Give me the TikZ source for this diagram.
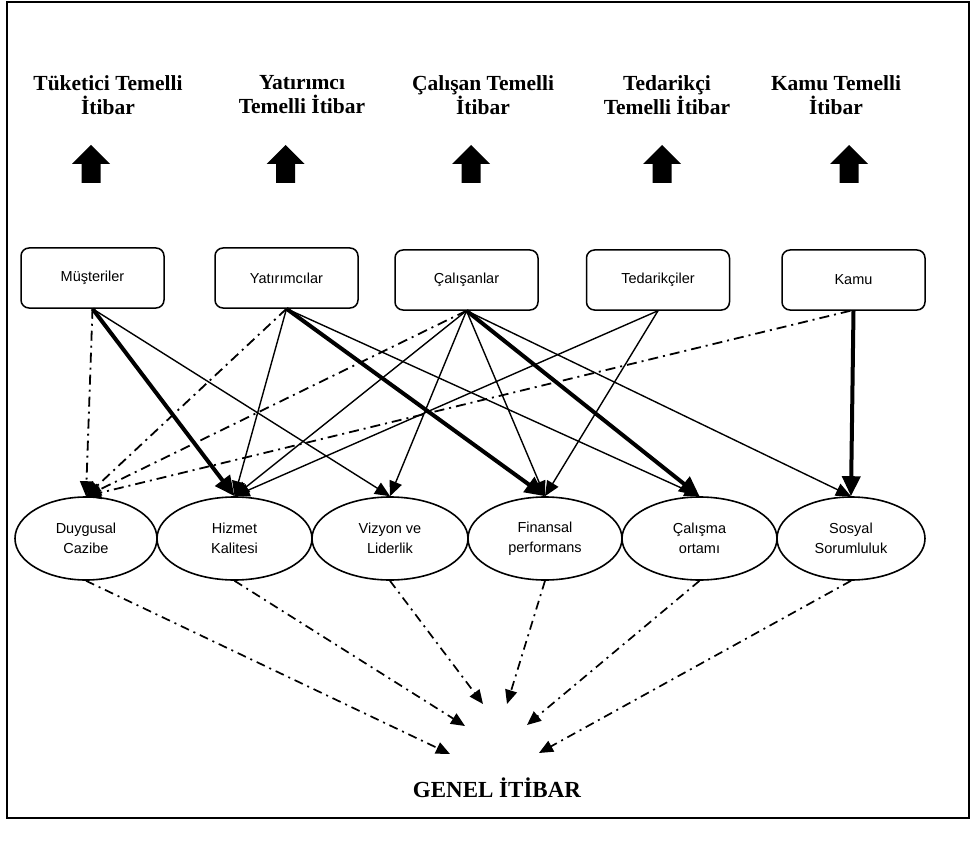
\documentclass[tikz,border=0pt]{standalone}
\usepackage{fontspec}
\setmainfont{Liberation Serif}
\setsansfont{Liberation Sans}
\usetikzlibrary{shapes.geometric,arrows.meta}
\begin{document}
\begin{tikzpicture}[x=1pt,y=-1pt,
  title/.style={font=\fontsize{21.5}{24}\selectfont\bfseries, align=center, inner sep=0pt},
  actor/.style={draw, line width=1.5pt, rounded corners=8pt, minimum width=143pt, minimum height=60pt, inner sep=0pt, font=\sffamily\fontsize{14.5}{17}\selectfont},
  dim/.style={ellipse, draw, line width=1.6pt, minimum height=83pt, inner sep=0pt, align=center, font=\sffamily\fontsize{14.5}{20}\selectfont},
  thinarr/.style={line width=1.4pt, -{Triangle[length=15pt,width=13pt]}},
  thickarr/.style={line width=4pt, -{Triangle[length=20pt,width=18pt]}},
  dasharr/.style={line width=1.8pt, dash pattern=on 10pt off 5pt on 2pt off 5pt, -{Triangle[length=15pt,width=13pt]}},
  botarr/.style={line width=1.7pt, dash pattern=on 9pt off 5pt on 2pt off 5pt, -{Triangle[length=14pt,width=12pt]}},
  blockarrow/.style={fill=black}
]
\useasboundingbox (0,0) rectangle (975,845);
\draw[line width=1.5pt] (7,2) rectangle (969,818);

% titles
\node[title] (t1) at (108,95) {Tüketici Temelli\\İtibar};
\node[title] (t2) at (302,95) {Yatırımcı\\Temelli İtibar};
\node[title] (t3) at (483,95) {Çalışan Temelli\\İtibar};
\node[title] (t4) at (667,95) {Tedarikçi\\Temelli İtibar};
\node[title] (t5) at (836,95) {Kamu Temelli\\İtibar};

% block arrows
\foreach \x in {91,285.5,471,662,849}{
  \fill[blockarrow] ({\x-9.5},183) -- ({\x-9.5},164) -- ({\x-19},164) -- (\x,145)
    -- ({\x+19},164) -- ({\x+9.5},164) -- ({\x+9.5},183) -- cycle;
}

% stakeholders
\node[actor] (mus) at (92.5,278) {Müşteriler};
\node[actor] (yat) at (286.5,278) {Yatırımcılar};
\node[actor] (cln) at (466.5,280) {Çalışanlar};
\node[actor] (ted) at (658,280) {Tedarikçiler};
\node[actor] (kam) at (853.5,280) {Kamu};

% dimensions
\node[dim, minimum width=142pt] (duy) at (86,538.5) {Duygusal\\Cazibe};
\node[dim, minimum width=155pt] (hiz) at (234.5,538.5) {Hizmet\\Kalitesi};
\node[dim, minimum width=156pt] (viz) at (390,538.5) {Vizyon ve\\Liderlik};
\node[dim, minimum width=154pt] (fin) at (545,538.5) {Finansal\\performans};
\node[dim, minimum width=155pt] (cal) at (699.5,538.5) {Çalışma\\ortamı};
\node[dim, minimum width=148pt] (sos) at (851,538.5) {Sosyal\\Sorumluluk};

% general reputation
\node[font=\fontsize{23}{26}\selectfont\bfseries, inner sep=0pt, anchor=base] (gen) at (497,797) {GENEL İTİBAR};
\coordinate (g1) at (450,754);
\coordinate (g2) at (465,726);
\coordinate (g3) at (483,704);
\coordinate (g4) at (507,704);
\coordinate (g5) at (527,725);
\coordinate (g6) at (539,753);

% stakeholder -> dimension
\draw[dasharr] (mus.south) -- (duy.north);
\draw[thickarr] (mus.south) -- (hiz.north);
\draw[thinarr] (mus.south) -- (viz.north);
\draw[dasharr] (yat.south) -- (duy.north);
\draw[thinarr] (yat.south) -- (hiz.north);
\draw[thickarr] (yat.south) -- (fin.north);
\draw[thinarr] (yat.south) -- (cal.north);
\draw[dasharr] (cln.south) -- (duy.north);
\draw[thinarr] (cln.south) -- (hiz.north);
\draw[thinarr] (cln.south) -- (viz.north);
\draw[thinarr] (cln.south) -- (fin.north);
\draw[thickarr] (cln.south) -- (cal.north);
\draw[thinarr] (cln.south) -- (sos.north);
\draw[thinarr] (ted.south) -- (hiz.north);
\draw[thinarr] (ted.south) -- (fin.north);
\draw[dasharr] ([xshift=-3pt]kam.south) -- (duy.north);
\draw[thickarr] (kam.south) -- (sos.north);

% dimension -> general
\draw[botarr] (duy.south) -- (g1);
\draw[botarr] (hiz.south) -- (g2);
\draw[botarr] (viz.south) -- (g3);
\draw[botarr] (fin.south) -- (g4);
\draw[botarr] (cal.south) -- (g5);
\draw[botarr] (sos.south) -- (g6);
\end{tikzpicture}
\end{document}
